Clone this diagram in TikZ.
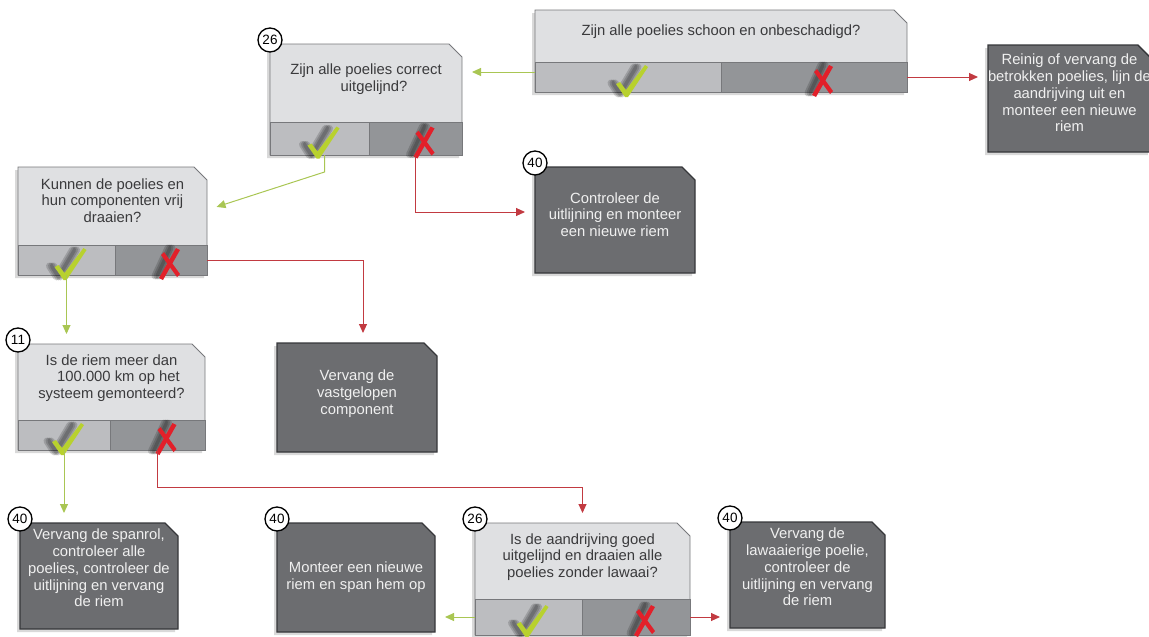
\documentclass[tikz,border=0pt]{standalone}
\usepackage{fontspec}
\setmainfont{Liberation Sans}
\usetikzlibrary{arrows.meta,calc,shadows,backgrounds}

\definecolor{qlight}{HTML}{DFE0E2}
\definecolor{qyes}{HTML}{BCBDC0}
\definecolor{qno}{HTML}{939598}
\definecolor{qrim}{HTML}{77787B}
\definecolor{boxdark}{HTML}{6C6D70}
\definecolor{boxrim}{HTML}{36373A}
\definecolor{okgreen}{HTML}{B8D12E}
\definecolor{nored}{HTML}{E2202A}
\definecolor{lineg}{HTML}{A9C653}
\definecolor{liner}{HTML}{C23A41}
\definecolor{txtgray}{HTML}{3A3A3C}

\tikzset{
  qtop/.style={anchor=north west, inner sep=0pt, outer sep=0pt, align=center,
    text=txtgray, font=\fontsize{14.8}{16.7}\selectfont, text depth=11pt},
  yespanel/.style={anchor=north west, fill=qyes, draw=qrim, line width=.8pt,
    inner sep=0pt, outer sep=0pt},
  nopanel/.style={yespanel, fill=qno},
  actbox/.style={anchor=north west, inner sep=0pt, outer sep=0pt, align=center,
    text=white!94!black, font=\fontsize{14.8}{16.7}\selectfont, text depth=11pt},
  qframe/.style={fill=qlight, draw=qrim, line width=.8pt,
    drop shadow={shadow xshift=-3pt, shadow yshift=-3pt, opacity=.3}},
  aframe/.style={fill=boxdark, draw=boxrim, line width=1.4pt,
    drop shadow={shadow xshift=-3pt, shadow yshift=-3pt, opacity=.3}},
  badge/.style={circle, draw=black, line width=1.3pt, fill=white, inner sep=0pt,
    minimum size=24pt, font=\fontsize{13.5}{13.5}\selectfont},
  yesline/.style={lineg, line width=1pt, shorten >=10pt},
  noline/.style={liner, line width=1pt, shorten >=10pt},
  smudge/.style={black, opacity=.16, line width=7pt, line cap=round, line join=round},
  okmark/.pic={
    \foreach \s in {0,2,4}
      \draw[smudge] (-17+\s,6) -- (-10+\s,17) -- (6+\s,-10);
    \fill[okgreen] (-12,7) -- (-8,5) -- (-2,13) -- (17,-12) -- (20,-10)
      -- (0,20) -- (-3,20) -- cycle;
  },
  nomark/.pic={
    \foreach \s in {0,2,4}
      \draw[smudge] (7+\s,-12) -- (-6+\s,16);
    \fill[nored] (15,-12) -- (19,-10) -- (2,20) -- (-2,18) -- cycle;
    \fill[nored] (0,-5) -- (3,-8) -- (19,14) -- (16,17) -- cycle;
  }
}

\begin{document}
\begin{tikzpicture}[x=1pt, y=-1pt, >={Triangle[length=9pt,width=8pt]}]
  \useasboundingbox (0,0) rectangle (1149,637);

  % vragen
  \node[qtop, minimum width=372, minimum height=52] (q1) at (535,10)
    {Zijn alle poelies schoon en onbeschadigd?};
  \node[yespanel, minimum width=186, minimum height=30] (q1-y) at (q1.south west) {};
  \node[nopanel, minimum width=186, minimum height=30] (q1-n) at (q1-y.north east) {};

  \node[qtop, minimum width=192, minimum height=78] (q2) at (270,44)
    {Zijn alle poelies correct\\\hspace*{16pt}uitgelijnd?};
  \node[yespanel, minimum width=99, minimum height=33] (q2-y) at (q2.south west) {};
  \node[nopanel, minimum width=93, minimum height=33] (q2-n) at (q2-y.north east) {};

  \node[qtop, minimum width=189, minimum height=78] (q3) at (18,167)
    {Kunnen de poelies en\\hun componenten vrij\\draaien?};
  \node[yespanel, minimum width=97, minimum height=30] (q3-y) at (q3.south west) {};
  \node[nopanel, minimum width=92, minimum height=30] (q3-n) at (q3-y.north east) {};

  \node[qtop, minimum width=187, minimum height=76] (q4) at (18,344)
    {Is de riem meer dan\\\hspace*{14pt}100.000 km op het\\systeem gemonteerd?};
  \node[yespanel, minimum width=92, minimum height=30] (q4-y) at (q4.south west) {};
  \node[nopanel, minimum width=95, minimum height=30] (q4-n) at (q4-y.north east) {};

  \node[qtop, minimum width=215, minimum height=76] (q5) at (475,523)
    {Is de aandrijving goed\\uitgelijnd en draaien alle\\poelies zonder lawaai?};
  \node[yespanel, minimum width=107, minimum height=36] (q5-y) at (q5.south west) {};
  \node[nopanel, minimum width=108, minimum height=36] (q5-n) at (q5-y.north east) {};

  % acties
  \node[actbox, minimum width=155, minimum height=107] (a1) at (988,45)
    {Reinig of vervang de\\betrokken poelies, lijn de\\aandrijving uit en\\monteer een nieuwe\\riem};
  \node[actbox, minimum width=160, minimum height=106] (a2) at (535,167)
    {Controleer de\\uitlijning en monteer\\een nieuwe riem};
  \node[actbox, minimum width=160, minimum height=109] (a3) at (277,343)
    {Vervang de\\vastgelopen\\component};
  \node[actbox, minimum width=158, minimum height=106, text depth=16pt] (a4) at (20,523)
    {Vervang de spanrol,\\controleer alle\\poelies, controleer de\\uitlijning en vervang\\de riem};
  \node[actbox, minimum width=158, minimum height=109, text depth=4pt] (a5) at (277,523)
    {Monteer een nieuwe\\riem en span hem op};
  \node[actbox, minimum width=155, minimum height=106, text depth=16pt] (a6) at (730,522)
    {Vervang de\\lawaaierige poelie,\\controleer de\\uitlijning en vervang\\de riem};

  \begin{scope}[on background layer]
    \foreach \q in {q1,q2,q3,q4,q5}
      \path[qframe] (\q-y.south west) -- (\q.north west) -- ([xshift=-13pt]\q.north east)
        -- ([yshift=-13pt]\q.north east) -- (\q-n.south east) -- cycle;
    \foreach \a in {a1,a2,a3,a4,a5,a6}
      \path[aframe] (\a.south west) -- (\a.north west) -- ([xshift=-13pt]\a.north east)
        -- ([yshift=-13pt]\a.north east) -- (\a.south east) -- cycle;
  \end{scope}

  % ja / nee
  \foreach \q in {q1,q2,q3,q4,q5} {
    \pic at (\q-y.center) {okmark};
    \pic at (\q-n.center) {nomark};
  }

  % nummers
  \foreach \b/\t in {q2/26,q4/11,q5/26,a2/40,a4/40,a5/40,a6/40}
    \node[badge] (\b-nr) at ([yshift=4pt]\b.north west) {\t};

  % verbindingen
  \draw[yesline,->] ([yshift=5pt]q1-y.west) -- ([yshift=5pt]q1-y.west -| q2.east);
  \draw[noline,->] (q1-n.east) -- (q1-n.east -| a1.west);
  \draw[yesline,->] ([xshift=5pt]q2-y.south) -- ++(0,17) -- ([yshift=-4pt]q3.east);
  \draw[noline,->] (q2-n.south) |- ([yshift=8pt]a2.west);
  \draw[yesline,->] (q3-y.south) -- (q3-y.south |- q4.north);
  \draw[noline,->] (q3-n.east) -| ([xshift=6pt]a3.north);
  \draw[yesline,->] (q4-y.south) -- (q4-y.south |- a4.north);
  \draw[noline,->] (q4-n.south) -- ++(0,37) -| (q5.north);
  \draw[yesline,->] (q5-y.west) -- (q5-y.west -| a5.east);
  \draw[noline,->] (q5-n.east) -- (q5-n.east -| a6.west);
\end{tikzpicture}
\end{document}
